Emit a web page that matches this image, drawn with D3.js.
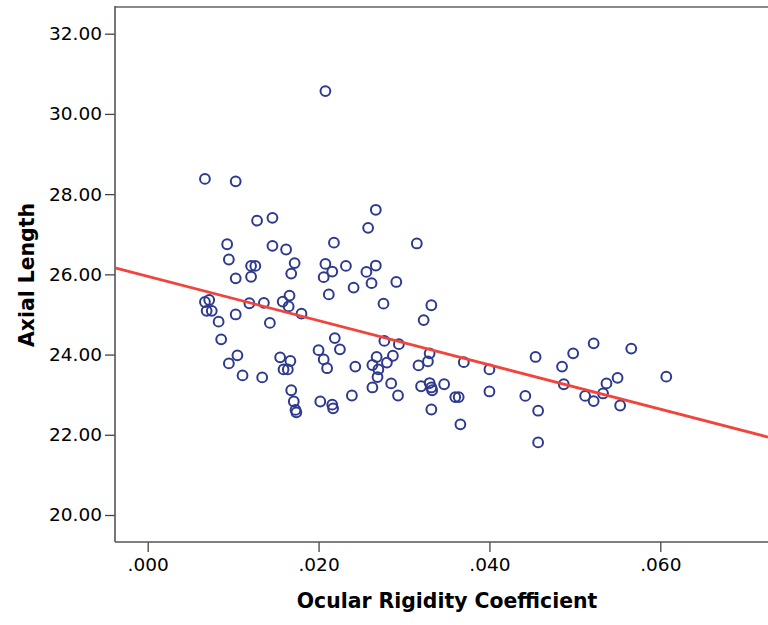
<!DOCTYPE html>
<html>
<head>
<meta charset="utf-8">
<script src="https://cdn.jsdelivr.net/npm/d3@7"></script>
<style>
  html, body { margin: 0; padding: 0; background: #fff; }
  svg { display: block; }
</style>
</head>
<body>
<svg id="chart" width="768" height="625"></svg>
<script>
// ---- data ----
const ocularRigidity = [
  0.0067,0.0103,0.0128,0.0146,0.0093,0.0146,0.0162,0.0095,0.0121,0.0126,
  0.0121,0.0103,0.0172,0.0168,0.0208,0.0206,0.0216,0.0232,0.0212,0.0208,
  0.0267,0.0258,0.0218,0.0315,0.0267,0.0256,0.0262,0.0241,0.0291,0.0276,
  0.0332,0.0067,0.0072,0.0069,0.0075,0.0083,0.0103,0.0119,0.0136,0.0158,
  0.0166,0.0165,0.0180,0.0143,0.0086,0.0105,0.0095,0.0111,0.0134,0.0155,
  0.0167,0.0159,0.0164,0.0168,0.0171,0.0173,0.0174,0.0200,0.0206,0.0210,
  0.0219,0.0225,0.0202,0.0216,0.0217,0.0239,0.0243,0.0263,0.0268,0.0280,
  0.0287,0.0270,0.0269,0.0263,0.0285,0.0293,0.0277,0.0294,0.0323,0.0330,
  0.0328,0.0317,0.0320,0.0330,0.0332,0.0333,0.0347,0.0332,0.0360,0.0364,
  0.0366,0.0370,0.0400,0.0400,0.0442,0.0457,0.0457,0.0454,0.0485,0.0498,
  0.0487,0.0522,0.0512,0.0522,0.0533,0.0537,0.0550,0.0553,0.0566,0.0607
];
const axialLength = [
  28.38,28.32,27.34,27.41,26.75,26.71,26.62,26.37,26.21,26.21,
  25.94,25.90,26.28,26.02,26.26,25.93,26.07,26.21,25.50,30.57,
  27.61,27.16,26.79,26.77,26.22,26.06,25.78,25.67,25.81,25.27,
  25.23,25.31,25.36,25.09,25.09,24.82,25.00,25.28,25.29,25.32,
  25.47,25.20,25.02,24.79,24.38,23.98,23.78,23.48,23.43,23.93,
  23.84,23.63,23.63,23.11,22.83,22.62,22.56,24.11,23.88,23.66,
  24.41,24.13,22.83,22.75,22.66,22.98,23.70,23.74,23.94,23.80,
  23.97,23.63,23.44,23.18,23.28,22.98,24.34,24.26,24.86,24.03,
  23.83,23.73,23.21,23.29,23.18,23.11,23.26,22.63,22.94,22.94,
  22.26,23.81,23.63,23.08,22.97,22.60,21.81,23.94,23.70,24.03,
  23.26,24.28,22.97,22.84,23.03,23.28,23.42,22.73,24.15,23.45
];
const xTicks = [0, 0.02, 0.04, 0.06];
const yTicks = [20, 22, 24, 26, 28, 30, 32];
const fitIntercept = 25.95;
const fitSlope = -55.2;
const xTitle = "Ocular Rigidity Coefficient";
const yTitle = "Axial Length";

// ---- layout ----
const frameLeft = 115, frameRight = 768, frameTop = 7, frameBottom = 542;
const svg = d3.select("#chart");

const x = d3.scaleLinear().domain([0, 0.06]).range([147.7, 660.3]);
const y = d3.scaleLinear().domain([20, 32]).range([515, 33.7]);

const FONT = "'DejaVu Sans', 'Noto Sans', sans-serif";

// frame
svg.append("line")
  .attr("x1", frameLeft).attr("x2", frameRight)
  .attr("y1", frameTop).attr("y2", frameTop)
  .attr("stroke", "#8a8a8a").attr("stroke-width", 2);

// y axis
const yAxis = d3.axisLeft(y).tickValues(yTicks)
  .tickFormat(d3.format(".2f")).tickSize(10).tickSizeOuter(0).tickPadding(3);
const gy = svg.append("g").attr("transform", `translate(${frameLeft},0)`).call(yAxis);
gy.select(".domain").remove();
gy.selectAll(".tick line").attr("stroke", "#444").attr("stroke-width", 1.3);
gy.selectAll(".tick text").attr("font-family", FONT).attr("font-size", 18.5)
  .attr("fill", "#000");

// x axis
const xAxis = d3.axisBottom(x).tickValues(xTicks)
  .tickFormat(d => d3.format(".3f")(d).replace(/^0/, "")).tickSize(10).tickSizeOuter(0).tickPadding(6);
const gx = svg.append("g").attr("transform", `translate(0,${frameBottom})`).call(xAxis);
gx.select(".domain").remove();
gx.selectAll(".tick line").attr("stroke", "#444").attr("stroke-width", 1.3);
gx.selectAll(".tick text").attr("font-family", FONT).attr("font-size", 18.5)
  .attr("fill", "#000");

// axis lines
svg.append("line")
  .attr("x1", frameLeft).attr("x2", frameLeft)
  .attr("y1", frameTop - 1).attr("y2", frameBottom)
  .attr("stroke", "#555").attr("stroke-width", 1.6);
svg.append("line")
  .attr("x1", frameLeft).attr("x2", frameRight)
  .attr("y1", frameBottom).attr("y2", frameBottom)
  .attr("stroke", "#555").attr("stroke-width", 1.6);

// points
svg.append("g").selectAll("circle")
  .data(d3.range(ocularRigidity.length))
  .join("circle")
  .attr("cx", i => x(ocularRigidity[i]))
  .attr("cy", i => y(axialLength[i]))
  .attr("r", 4.9)
  .attr("fill", "none")
  .attr("stroke", "#2e3a8e")
  .attr("stroke-width", 2);

// fit line
const x0 = x.invert(frameLeft), x1 = x.invert(frameRight);
svg.append("line")
  .attr("x1", x(x0)).attr("y1", y(fitIntercept + fitSlope * x0))
  .attr("x2", x(x1)).attr("y2", y(fitIntercept + fitSlope * x1))
  .attr("stroke", "#f0453c").attr("stroke-width", 2.8);

// titles
svg.append("text")
  .attr("x", 447).attr("y", 608)
  .attr("text-anchor", "middle")
  .attr("font-family", FONT).attr("font-weight", "bold").attr("font-size", 20.4)
  .attr("fill", "#000")
  .text(xTitle);
svg.append("text")
  .attr("transform", "translate(34,275) rotate(-90)")
  .attr("text-anchor", "middle")
  .attr("font-family", FONT).attr("font-weight", "bold").attr("font-size", 20.4)
  .attr("fill", "#000")
  .text(yTitle);
</script>
</body>
</html>
